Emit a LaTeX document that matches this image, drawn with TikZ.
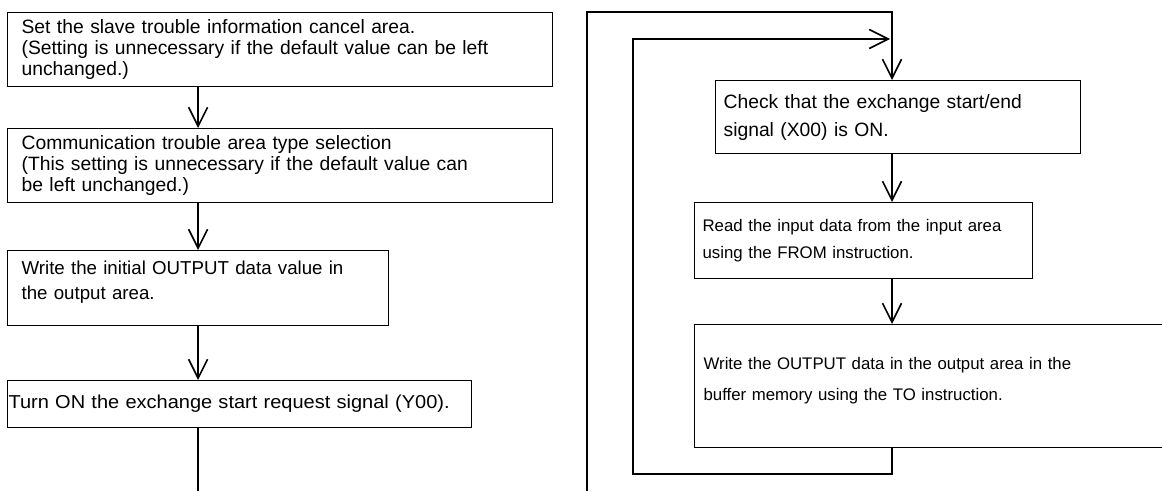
\documentclass[tikz,border=0pt]{standalone}
\usepackage{fontspec}
\setmainfont{Liberation Sans}
\usetikzlibrary{arrows.meta}

\begin{document}
\begin{tikzpicture}[x=1pt, y=-1pt,
    box/.style={draw, line width=1.2pt, anchor=north west, inner ysep=0pt,
                align=left, font=\fontsize{19.3}{21}\selectfont},
    flow/.style={line width=2.6pt},
    arr/.style={flow, -{Straight Barb[length=19pt, width=19pt, line width=1.6pt]}}]
    \useasboundingbox (0,0) rectangle (1162,491);
    %\draw[help lines] (0,0) grid[step=50] (1162,491);
    % left column
    \node[box, text width=517pt, inner xsep=14pt, minimum height=74pt] (b1) at (7,12)
        {Set the slave trouble information cancel area.\\
         (Setting is unnecessary if the default value can be left\\
         unchanged.)};
    \node[box, text width=517pt, inner xsep=14pt, minimum height=74pt] (b2) at (7,128)
        {Communication trouble area type selection\\
         (This setting is unnecessary if the default value can\\
         be left unchanged.)};
    \node[box, text width=353pt, inner xsep=14pt, minimum height=75pt,
          font=\fontsize{18.7}{25}\selectfont] (b3) at (7,250)
        {Write the initial OUTPUT data value in\\
         the output area.\\[-9pt]\rule{0pt}{0pt}};
    \node[box, text width=462pt, inner xsep=1pt, minimum height=47pt,
          font=\fontsize{18.7}{20}\selectfont\addfontfeature{FakeStretch=1.07}] (b4) at (7,380)
        {\mbox{Turn ON the exchange start request signal (Y00).}};
    \coordinate (lend) at (b3.south |- 0,491);
    \draw[arr] (b1.south -| b3.south) -- (b2.north -| b3.south);
    \draw[arr] (b2.south -| b3.south) -- (b3.north);
    \draw[arr] (b3.south) -- (b4.north -| b3.south);
    \draw[flow] (b4.south -| b3.south) -- (lend);
    % right column
    \coordinate (rx) at (892,0);
    \node[box, text width=349pt, inner xsep=8pt, minimum height=73pt,
          font=\fontsize{19.3}{28}\selectfont] (b5) at (715,80)
        {Check that the exchange start/end\\
         signal (X00) is ON.};
    \node[box, text width=322pt, inner xsep=8pt, minimum height=76pt,
          font=\fontsize{16.8}{27}\selectfont] (b6) at (694,202)
        {Read the input data from the input area\\
         using the FROM instruction.};
    \node[box, text width=452pt, inner xsep=9pt, minimum height=123pt,
          font=\fontsize{16.8}{31}\selectfont] (b7) at (694,324)
        {Write the OUTPUT data in the output area in the\\
         buffer memory using the TO instruction.\\[-17pt]\rule{0pt}{0pt}};
    \coordinate (outB) at (587,491);
    \coordinate (outT) at (587,12);
    \coordinate (inB) at (633,474);
    \coordinate (inT) at (633,39);
    \coordinate (inE) at (890,39);
    \draw[arr] (outB) -- (outT) -- (outT -| rx) -- (b5.north -| rx);
    \draw[arr] (b5.south -| rx) -- (b6.north -| rx);
    \draw[arr] (b6.south -| rx) -- (b7.north -| rx);
    \draw[arr] (b7.south -| rx) -- (inB -| rx) -- (inB) -- (inT) -- (inE);
\end{tikzpicture}
\end{document}
